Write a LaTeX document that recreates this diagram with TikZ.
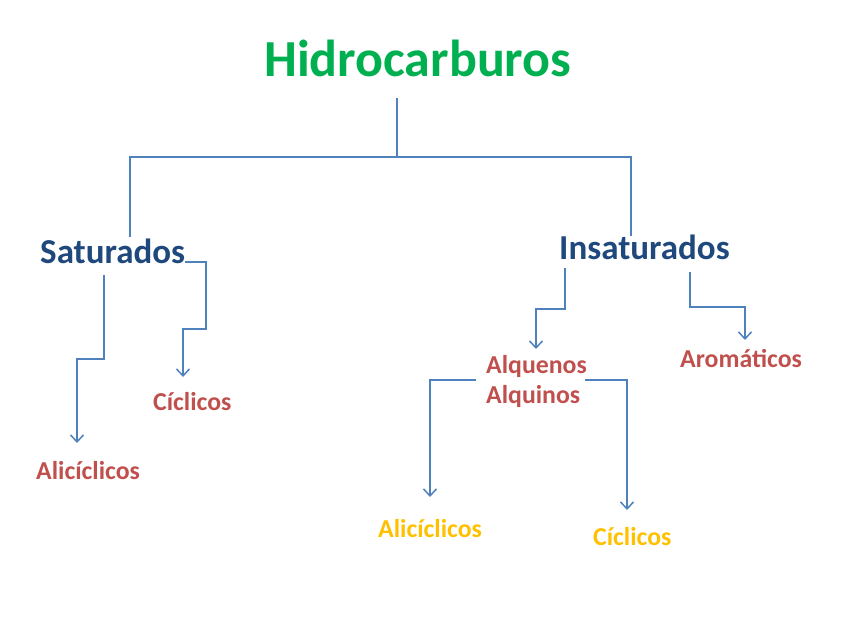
\documentclass[tikz,border=0pt]{standalone}
\usepackage{fontspec}
\setmainfont{Carlito}
\usetikzlibrary{arrows.meta}
\definecolor{titlegreen}{HTML}{00B050}
\definecolor{darkblue}{HTML}{1F497D}
\definecolor{redtxt}{HTML}{C0504D}
\definecolor{yellowtxt}{HTML}{FFC000}
\definecolor{linkblue}{HTML}{4F81BD}
\tikzset{
  lbl/.style={inner sep=0pt, anchor=base west, font=\bfseries},
  titlelbl/.style={lbl, text=titlegreen, font=\bfseries\fontsize{52}{62}\selectfont},
  mainlbl/.style={lbl, text=darkblue, font=\bfseries\fontsize{35}{42}\selectfont},
  sublbl/.style={lbl, text=redtxt, font=\bfseries\fontsize{25.8}{30}\selectfont, align=left},
  leaflbl/.style={lbl, text=yellowtxt, font=\bfseries\fontsize{25.8}{30}\selectfont},
  link/.style={draw=linkblue, line width=1.3pt},
  arr/.style={link, -{Straight Barb[length=7pt,width=13pt,line width=1.5pt]}}
}
\begin{document}
\begin{tikzpicture}[x=1pt,y=-1pt]
\useasboundingbox (0,0) rectangle (848,636);
% labels
\node[titlelbl] (hid) at (264,77) {Hidrocarburos};
\node[mainlbl] (sat) at (40,263) {Saturados};
\node[mainlbl] (ins) at (559,260) {Insaturados};
\node[sublbl] (cic1) at (153,410) {Cíclicos};
\node[sublbl] (ali1) at (36,479) {Alicíclicos};
\node[sublbl] (alq) at (486,373) {Alquenos};
\node[sublbl] (alqi) at (486,403) {Alquinos};
\node[sublbl] (aro) at (680,367) {Aromáticos};
\node[leaflbl] (ali2) at (378,537) {Alicíclicos};
\node[leaflbl] (cic2) at (593,545) {Cíclicos};
% anchor coordinates
\coordinate (h0) at (397,98);
\coordinate (hb) at (397,157);
\coordinate (sTop) at (130,237);
\coordinate (iTop) at (631,236);
\coordinate (s1) at (185,262);
\coordinate (s1e) at (183,377);
\coordinate (s2) at (104,275);
\coordinate (s2e) at (77,443);
\coordinate (i1) at (565,268);
\coordinate (i1e) at (536,349);
\coordinate (i2) at (690,272);
\coordinate (i2e) at (745,340);
\coordinate (a1) at (476,380);
\coordinate (a1e) at (430,497);
\coordinate (a2) at (585,380);
\coordinate (a2e) at (627,510);
% connectors
\draw[link] (h0) -- (hb);
\draw[link] (sTop) |- (hb) -| (iTop);
\draw[arr] (s1) -- (206,262) -- (206,329) -| (s1e);
\draw[arr] (s2) -- (104,359) -| (s2e);
\draw[arr] (i1) -- (565,309) -| (i1e);
\draw[arr] (i2) -- (690,307) -| (i2e);
\draw[arr] (a1) -| (a1e);
\draw[arr] (a2) -| (a2e);
\end{tikzpicture}
\end{document}
